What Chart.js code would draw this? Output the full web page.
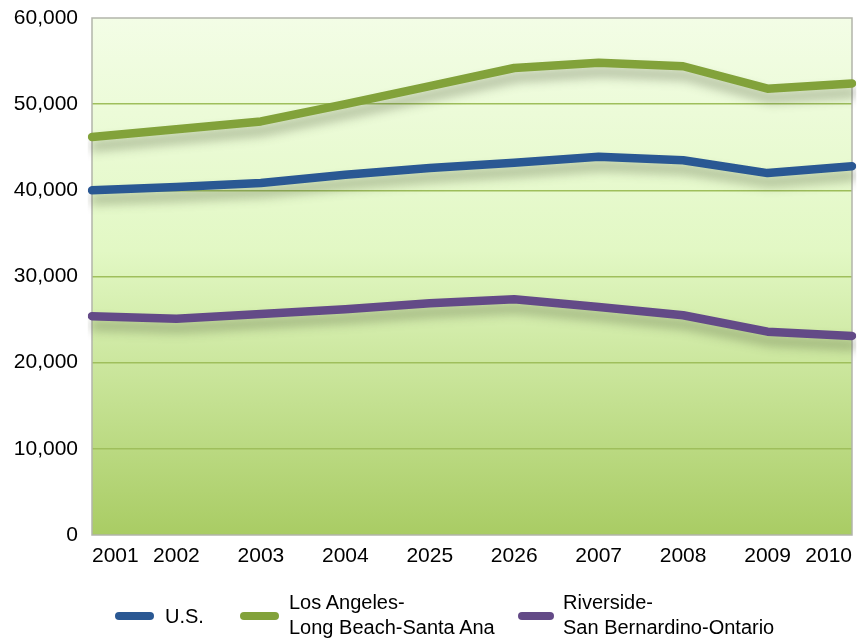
<!DOCTYPE html>
<html>
<head>
<meta charset="utf-8">
<script src="https://cdn.jsdelivr.net/npm/chart.js@4/dist/chart.umd.min.js"></script>
<style>
  html, body { margin: 0; padding: 0; background: #fff; }
  #wrap { position: relative; width: 862px; height: 641px; font-family: "Liberation Sans", Arial, Helvetica, sans-serif; }
  canvas { position: absolute; left: 0; top: 0; }
  .sw { position: absolute; height: 8px; border-radius: 4px; }
  .lt { position: absolute; font-size: 20px; line-height: 25px; color: #000; white-space: nowrap; }
</style>
</head>
<body>
<div id="wrap">
  <canvas id="c" width="862" height="641"></canvas>
  <div class="sw" style="left:115px; top:612px; width:39px; background:#2a5893;"></div>
  <div class="lt" style="left:165px; top:604px;">U.S.</div>
  <div class="sw" style="left:240px; top:612px; width:39px; background:#82a23a;"></div>
  <div class="lt" style="left:289px; top:590px;">Los Angeles-<br>Long Beach-Santa Ana</div>
  <div class="sw" style="left:518px; top:612px; width:36px; background:#634a87;"></div>
  <div class="lt" style="left:563px; top:590px;">Riverside-<br>San Bernardino-Ontario</div>
</div>
<script>
const years = ["2001","2002","2003","2004","2025","2026","2007","2008","2009","2010"];
const usValues = [40000, 40400, 40850, 41800, 42600, 43200, 43900, 43500, 42000, 42800];
const laValues = [46200, 47100, 48000, 50000, 52100, 54200, 54800, 54400, 51800, 52400];
const riversideValues = [25400, 25100, 25650, 26200, 26900, 27350, 26450, 25500, 23600, 23100];
const seriesNames = ["U.S.", "Los Angeles-Long Beach-Santa Ana", "Riverside-San Bernardino-Ontario"];
const yTicksMax = 60000;
const yTickStep = 10000;

const bgPlugin = {
  id: 'bg',
  beforeDraw(chart) {
    const {ctx, chartArea: a} = chart;
    const g = ctx.createLinearGradient(0, a.top, 0, a.bottom);
    g.addColorStop(0, '#f3fde6');
    g.addColorStop(0.45, '#e2f8c4');
    g.addColorStop(1, '#a9cc64');
    ctx.save();
    ctx.fillStyle = g;
    ctx.fillRect(a.left, a.top, a.right - a.left, a.bottom - a.top);
    ctx.restore();
  },
  beforeDatasetsDraw(chart) {
    const {ctx, chartArea: a} = chart;
    ctx.save();
    ctx.strokeStyle = '#b2b5aa';
    ctx.lineWidth = 1.5;
    ctx.strokeRect(a.left, a.top, a.right - a.left, a.bottom - a.top);
    ctx.restore();
  },
  beforeDatasetDraw(chart) {
    const ctx = chart.ctx;
    ctx.save();
    ctx.shadowColor = 'rgba(70,80,50,0.42)';
    ctx.shadowBlur = 11;
    ctx.shadowOffsetX = 2;
    ctx.shadowOffsetY = 9;
  },
  afterDatasetDraw(chart) {
    chart.ctx.restore();
  }
};

const mk = (label, data, color) => ({
  label, data,
  borderColor: color, backgroundColor: color,
  borderWidth: 8.5, pointRadius: 0, pointHoverRadius: 0,
  borderCapStyle: 'round', borderJoinStyle: 'round',
  tension: 0, fill: false
});

const tickFont = { family: '"Liberation Sans", Arial, sans-serif', size: 21 };

new Chart(document.getElementById('c'), {
  type: 'line',
  data: {
    labels: years,
    datasets: [
      mk(seriesNames[0], usValues, '#2a5893'),
      mk(seriesNames[1], laValues, '#82a23a'),
      mk(seriesNames[2], riversideValues, '#634a87')
    ]
  },
  options: {
    responsive: false,
    animation: false,
    events: [],
    layout: { autoPadding: false, padding: { left: 0, right: 10, top: 18, bottom: 66 } },
    plugins: { legend: { display: false }, tooltip: { enabled: false } },
    scales: {
      x: {
        offset: false,
        grid: { display: false, drawTicks: false },
        border: { display: false },
        ticks: { color: '#000', font: tickFont, padding: 9, align: 'inner', maxRotation: 0, autoSkip: false },
        afterFit(s) { s.height = 40; s.paddingLeft = 0; s.paddingRight = 0; }
      },
      y: {
        min: 0, max: yTicksMax,
        grid: {
          drawTicks: false,
          lineWidth: 1.5,
          color: (c) => (c.tick && (c.tick.value === 0 || c.tick.value === yTicksMax)) ? 'rgba(0,0,0,0)' : '#9fbf5c'
        },
        border: { display: false },
        ticks: {
          stepSize: yTickStep, color: '#000', padding: 14,
          font: tickFont,
          callback: (v) => Number(v).toLocaleString('en-US')
        },
        afterFit(s) { s.width = 92; s.paddingTop = 0; s.paddingBottom = 0; }
      }
    }
  },
  plugins: [bgPlugin]
});
</script>
</body>
</html>
